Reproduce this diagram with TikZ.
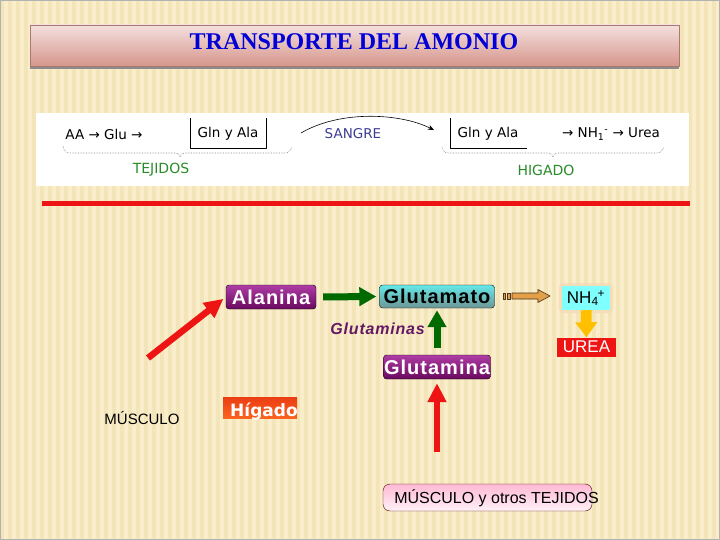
\documentclass[tikz,border=0pt]{standalone}
\usepackage{fontspec}
\setmainfont{Liberation Sans}
\newfontfamily\titlefont{Liberation Serif}
\newfontfamily\comicfont{DejaVu Sans}
\newfontfamily\spacedfont{Liberation Sans}[LetterSpace=5]
\usetikzlibrary{arrows.meta,positioning}

\definecolor{paper}{RGB}{250,238,202}
\definecolor{stripe}{RGB}{243,228,186}
\definecolor{titletop}{RGB}{243,224,222}
\definecolor{titlebot}{RGB}{214,150,140}
\definecolor{titleblue}{RGB}{0,0,215}
\definecolor{purptop}{RGB}{175,60,165}
\definecolor{purpbot}{RGB}{105,10,95}
\definecolor{cyantop}{RGB}{100,232,232}
\definecolor{cyanbot}{RGB}{110,150,150}
\definecolor{arrowgreen}{RGB}{0,105,0}
\definecolor{arrowred}{RGB}{238,20,20}
\definecolor{textgreen}{RGB}{40,140,40}
\definecolor{sangreblue}{RGB}{60,60,150}
\definecolor{glnpurple}{RGB}{100,25,100}
\definecolor{arrowtan}{RGB}{228,160,72}
\definecolor{arrowgold}{RGB}{255,192,0}
\definecolor{nhcyan}{RGB}{128,255,255}
\definecolor{pinkfill}{RGB}{255,185,212}
\definecolor{higtop}{RGB}{235,60,20}
\definecolor{higbot}{RGB}{250,100,30}

\tikzset{
  purplebox/.style={draw=black,rounded corners=3pt,top color=purptop,bottom color=purpbot,
    text=white,font=\spacedfont\bfseries\fontsize{20}{22}\selectfont,inner sep=0pt,minimum height=24pt},
  cyanbox/.style={draw=black,rounded corners=3pt,top color=cyantop,bottom color=cyanbot,
    font=\spacedfont\bfseries\fontsize{20}{22}\selectfont,inner sep=0pt,minimum height=23pt},
  comic/.style={font=\comicfont\fontsize{13.5}{15}\selectfont},
  bracestyle/.style={gray,densely dotted,line width=0.6pt},
  greenarrow/.style={arrowgreen,line width=7pt,-{Triangle[width=18pt,length=17pt]}},
  redarrow/.style={arrowred,line width=6.5pt,-{Triangle[width=18pt,length=19pt]}},
  tanshape/.style={fill=arrowtan,draw=black!60!brown,line width=0.6pt},
}

\begin{document}
\begin{tikzpicture}[x=1pt,y=-1pt,line join=round,font=\fontsize{15}{17}\selectfont]
\useasboundingbox (0,0) rectangle (720,540);
% background
\fill[paper] (0,0) rectangle (720,540);
\foreach \x in {0,8,...,720}
  \fill[stripe] (\x,0) rectangle ++(3.5,540);
\draw[gray!60] (0.5,0.5) rectangle (719.5,539.5);

% title bar
\fill[black!45] (30,66) rectangle (679,69.5);
\node[top color=titletop,bottom color=titlebot,draw=titlebot!80!black,line width=0.3pt,
  minimum width=649pt,minimum height=41pt,inner sep=0pt] (titlebar) at (354.5,45.5) {};
\node[text=titleblue,font=\titlefont\bfseries\fontsize{24}{26}\selectfont] (title) at (354,42) {TRANSPORTE DEL AMONIO};

% picture of the pathway
\fill[white] (36,113) rectangle (689,186);
\node[comic] (aaglu) at (104,134) {AA → Glu →};
\node[comic] (glnala) at (228,134) {Gln y Ala};
\draw[line width=0.8pt] (190,118) -- (190,148) -- (266,148) -- (266,118);
\node[comic,text=sangreblue] (sangre) at (353,134) {SANGRE};
\coordinate (sangreA) at (301,133);
\coordinate (sangreB) at (434,130);
\draw[line width=0.6pt,-{Stealth[length=6pt,width=5pt]}] (sangreA) .. controls (340,110) and (400,113) .. (sangreB);
\node[comic] (glnalaH) at (488,134) {Gln y Ala};
\draw[line width=0.8pt] (450,118) -- (450,148) -- (527,148);
\node[comic] (nhurea) at (611,134) {→ NH\textsubscript{1}\textsuperscript{-} → Urea};
\draw[bracestyle] (63,146) .. controls (65,153) .. (75,153) -- (172,153) .. controls (178,153) .. (180,157)
  .. controls (182,153) .. (188,153) -- (281,153) .. controls (289,153) .. (292,147);
\draw[bracestyle] (442,147) .. controls (444,153) .. (454,153) -- (545,153) .. controls (551,153) .. (553,157)
  .. controls (555,153) .. (561,153) -- (653,153) .. controls (661,153) .. (664,147);
\node[comic,text=textgreen,font=\comicfont\fontsize{14}{16}\selectfont] (tejidos) at (161,170) {TEJIDOS};
\node[comic,text=textgreen,font=\comicfont\fontsize{14}{16}\selectfont] (higado) at (546,170) {HIGADO};

\draw[arrowred,line width=5pt] (42,204) -- (690,204);

% nodes
\node[purplebox,minimum width=90pt] (ala) at (271,297) {Alanina};
\node[cyanbox,minimum width=115pt] (glu) at (437,296.5) {Glutamato};
\node[anchor=north east,align=right,inner sep=0pt,text=glnpurple,
  font=\spacedfont\bfseries\itshape\fontsize{16}{18}\selectfont] (glnas) at (425,323) {Glutaminas\\[13pt]a};
\node[purplebox,minimum width=107pt] (gln) at (437,367) {Glutamina};
\node[fill=arrowtan!40,minimum width=54pt,minimum height=30pt,rounded corners=4pt,opacity=0.7] (nhglow) at (586,298) {};
\node[fill=nhcyan,minimum width=48pt,minimum height=24pt,inner sep=0pt,
  font=\fontsize{17}{19}\selectfont] (nh) at (586,298) {NH\textsubscript{4}\kern-1pt\textsuperscript{+}};
\node[fill=arrowred,text=white,minimum width=59pt,minimum height=19pt,inner sep=0pt,
  font=\fontsize{17}{19}\selectfont] (urea) at (586.5,347) {\raisebox{-2pt}{UREA}};
\node[top color=higtop,bottom color=higbot,minimum width=74pt,minimum height=21pt,inner sep=0pt] (hig) at (260,407.5) {};
\node[text=white,font=\comicfont\bfseries\fontsize{17}{19}\selectfont] (higlabel) at (264,412) {Hígado};
\node (musc) at (142,418) {MÚSCULO};
\node[draw=black!70!red,rounded corners=7pt,top color=pinkfill,bottom color=white!80!pinkfill,
  minimum width=209pt,minimum height=27pt,inner sep=0pt] (mot) at (487.5,497.5) {};
\node[font=\fontsize{16}{18}\selectfont] (motlabel) at (496.5,498) {MÚSCULO y otros TEJIDOS};

% arrows
\draw[greenarrow,shorten <=7pt,shorten >=3pt] (ala.east) -- (glu.west);
\draw[greenarrow,shorten <=7pt,shorten >=2pt] (gln.north) -- (glu.south);
\coordinate (muscTail) at (148,358);
\coordinate (tejTail) at (437,452);
\draw[redarrow,shorten >=3pt] (muscTail) -- (ala.west);
\draw[redarrow,shorten >=4pt] (tejTail) -- (gln.south);
% striped arrow
\filldraw[tanshape] (503,293) rectangle (505.5,299) (507,293) rectangle (510,299);
\filldraw[tanshape] (512,293) -- (538,293) -- (538,289.5) -- (550,296) -- (538,302.5) -- (538,299) -- (512,299) -- cycle;
\draw[arrowgold,line width=11pt,-{Triangle[width=21pt,length=15pt]}] (nh.south) -- (urea.north);
\end{tikzpicture}
\end{document}
